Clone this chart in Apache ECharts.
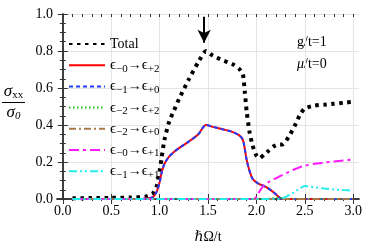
<!DOCTYPE html>
<html>
<head>
<meta charset="utf-8">
<script src="https://cdn.jsdelivr.net/npm/echarts@6/dist/echarts.min.js"></script>
<style>html,body{margin:0;padding:0;background:#fff}#c{width:374px;height:249px}</style>
</head>
<body>
<div id="c"></div>
<script>
// ---- data ----
var xs = [0.1,0.3,0.5,0.7,0.85,0.93,0.97,1.0,1.02,1.05,1.1,1.15,1.2,1.3,1.4,1.48,1.55,1.65,1.75,1.82,1.86,1.88,1.9,1.93,1.96,2.0,2.03,2.08,2.13,2.18,2.23,2.27,2.3,2.35,2.4,2.45,2.5,2.6,2.7,2.8,2.9,3.0];
var total = [0.004,0.005,0.006,0.008,0.012,0.03,0.07,0.15,0.22,0.32,0.42,0.48,0.54,0.645,0.74,0.80,0.775,0.75,0.73,0.705,0.675,0.58,0.47,0.36,0.29,0.235,0.22,0.24,0.262,0.285,0.295,0.295,0.31,0.35,0.40,0.455,0.49,0.505,0.51,0.515,0.52,0.525];
var e0to2 = [0,0,0,0,0.002,0.01,0.04,0.09,0.14,0.19,0.23,0.255,0.275,0.31,0.35,0.40,0.39,0.377,0.363,0.345,0.32,0.27,0.21,0.15,0.11,0.09,0.08,0.07,0.055,0.035,0.012,0,0,0,0,0,0,0,0,0,0,0];
var e1to0 = [0,0,0,0,0.002,0.01,0.04,0.09,0.14,0.19,0.23,0.255,0.275,0.31,0.35,0.40,0.39,0.377,0.363,0.345,0.32,0.27,0.21,0.15,0.11,0.09,0.08,0.07,0.055,0.035,0.012,0,0,0,0,0,0,0,0,0,0,0];
var e2to2 = [0,0,0,0,0,0,0,0,0,0,0,0,0,0,0,0,0,0,0,0,0,0,0,0,0,0,0,0,0.003,0.006,0.008,0.004,0,0,0,0,0,0,0,0,0,0];
var e2to0 = [0,0,0,0,0,0,0,0,0,0,0,0,0,0,0,0,0,0,0,0,0,0,0,0,0,0,0,0,0,0,0,0,0,0,0,0,0,0,0,0,0,0];
var e0to1 = [0,0,0,0,0,0,0,0,0,0,0,0,0,0,0,0,0,0,0,0,0,0,0,0,0,0.01,0.04,0.075,0.093,0.107,0.12,0.13,0.138,0.15,0.162,0.172,0.18,0.19,0.197,0.203,0.208,0.213];
var e1to1 = [0,0,0,0,0,0,0,0,0,0,0,0,0,0,0,0,0,0,0,0,0,0,0,0,0,0,0,0,0,0,0,0.004,0.01,0.024,0.04,0.058,0.07,0.063,0.057,0.052,0.048,0.045];
var xTicks = [0,0.5,1,1.5,2,2.5,3];
var xMinorTicks = [0,0.1,0.2,0.3,0.4,0.5,0.6,0.7,0.8,0.9,1,1.1,1.2,1.3,1.4,1.5,1.6,1.7,1.8,1.9,2,2.1,2.2,2.3,2.4,2.5,2.6,2.7,2.8,2.9,3];
var seriesNames = ['Total','e-0e+2','e-1e+0','e-2e+2','e-2e+0','e-0e+1','e-1e+1'];
var legendSubs = {'e-0e+2':['−0','+2'],'e-1e+0':['−1','+0'],'e-2e+2':['−2','+2'],'e-2e+0':['−2','+0'],'e-0e+1':['−0','+1'],'e-1e+1':['−1','+1']};
var arrowX = 1.46;

function pairs(ys){ return xs.map(function(x,i){ return [x, ys[i]]; }); }

var serif = "'Liberation Serif','DejaVu Serif',serif";
var frameColor = '#333';
var chart = echarts.init(document.getElementById('c'), null, {renderer:'canvas'});

function baseLine(name, ys, color, width, type, z){
  return {name:name, type:'line', data:pairs(ys), xAxisIndex:0, yAxisIndex:0,
    showSymbol:false, symbol:'none', smooth:0.3, z:z, animation:false,
    lineStyle:{color:color, width:width, type:type, cap:'butt'}, itemStyle:{color:color}};
}

var sTotal = baseLine('Total', total, '#000', 4, [3.5,4.5], 2);
sTotal.smooth = 0.2;
sTotal.markLine = {silent:true, animation:false, symbol:['none','arrow'], symbolSize:[10,13],
  label:{show:false}, lineStyle:{color:'#000', width:2, type:'solid'},
  data:[[{coord:[arrowX,0.985]},{coord:[arrowX,0.845]}]]};

var option = {
  animation:false,
  grid:[{left:57, right:15, top:14, bottom:48, containLabel:false},
        {left:57, right:15, top:14, bottom:48, containLabel:false}],
  legend:{orient:'vertical', left:63, top:30, itemWidth:36, itemHeight:14, itemGap:3.2,
    data:seriesNames, selectedMode:false, itemStyle:{opacity:0},
    textStyle:{fontFamily:serif, fontSize:14, lineHeight:18, color:'#000',
      rich:{e:{fontFamily:serif, fontSize:15, lineHeight:18, color:'#000'},
            s:{fontFamily:serif, fontSize:11, lineHeight:10, verticalAlign:'bottom', color:'#000'},
            a:{fontFamily:serif, fontSize:14, lineHeight:18, color:'#000'}}},
    formatter:function(name){
      if(name==='Total') return 'Total';
      var s = legendSubs[name];
      return '{e|ϵ}{s|'+s[0]+'}{a|→}{e|ϵ}{s|'+s[1]+'}';
    }},
  xAxis:[
    {type:'value', gridIndex:0, position:'bottom', min:-0.06, max:3.06,
     name:'ℏΩ/t', nameLocation:'middle', nameGap:31,
     nameTextStyle:{fontFamily:serif, fontSize:14, color:'#000'},
     axisLine:{show:true, lineStyle:{color:frameColor, width:1.5}},
     axisTick:{show:true, inside:true, length:5, customValues:xTicks, lineStyle:{color:frameColor}},
     axisLabel:{show:true, customValues:xTicks, margin:5, fontFamily:serif, fontSize:14, color:'#000',
       formatter:function(v){return v.toFixed(1);}},
     splitLine:{show:true, lineStyle:{color:'#e4e4e4', width:1}}},
    {type:'value', gridIndex:0, position:'top', min:-0.06, max:3.06,
     axisLine:{show:true, lineStyle:{color:frameColor, width:1.5}},
     axisTick:{show:true, inside:true, length:5, customValues:xTicks, lineStyle:{color:frameColor}},
     axisLabel:{show:false}, splitLine:{show:false}},
    {type:'value', gridIndex:1, position:'bottom', min:-0.06, max:3.06,
     axisLine:{show:false},
     axisTick:{show:true, inside:true, length:3, customValues:xMinorTicks, lineStyle:{color:frameColor}},
     axisLabel:{show:false}, splitLine:{show:false}},
    {type:'value', gridIndex:1, position:'top', min:-0.06, max:3.06,
     axisLine:{show:false},
     axisTick:{show:true, inside:true, length:3, customValues:xMinorTicks, lineStyle:{color:frameColor}},
     axisLabel:{show:false}, splitLine:{show:false}}
  ],
  yAxis:[
    {type:'value', gridIndex:0, position:'left', min:0, max:1, interval:0.2,
     axisLine:{show:true, lineStyle:{color:frameColor, width:1.5}},
     axisTick:{show:true, inside:true, length:5, lineStyle:{color:frameColor}},
     minorTick:{show:true, splitNumber:4, length:3, lineStyle:{color:frameColor}},
     axisLabel:{show:true, margin:4, fontFamily:serif, fontSize:14, color:'#000',
       formatter:function(v){return v.toFixed(1);}},
     splitLine:{show:true, lineStyle:{color:'#e4e4e4', width:1}}},
    {type:'value', gridIndex:0, position:'right', min:0, max:1, interval:0.2,
     axisLine:{show:true, lineStyle:{color:frameColor, width:1.5}},
     axisTick:{show:true, inside:true, length:5, lineStyle:{color:frameColor}},
     minorTick:{show:true, splitNumber:4, length:3, lineStyle:{color:frameColor}},
     axisLabel:{show:false}, splitLine:{show:false}},
    {type:'value', gridIndex:1, min:0, max:1, show:false}
  ],
  graphic:[
    {type:'text', left:297, top:35, style:{text:'g/t=1', font:"14px 'Liberation Serif'", fill:'#000'}},
    {type:'text', left:297, top:57, style:{text:'{i|μ}/t=0', fill:'#000',
      font:"14px 'Liberation Serif'",
      rich:{i:{fontFamily:serif, fontStyle:'italic', fontSize:14, fill:'#000'}}}},
    {type:'text', left:2, top:83, style:{
      text:'{n|σ}{s|xx}\n{b|}\n{n|σ}{t|0}', align:'center', fill:'#000',
      rich:{n:{fontFamily:serif, fontStyle:'italic', fontSize:17, lineHeight:17, fill:'#000', align:'center'},
            s:{fontFamily:serif, fontSize:11, lineHeight:17, padding:[7,0,0,0], fill:'#000'},
            t:{fontFamily:serif, fontStyle:'italic', fontSize:11, lineHeight:17, padding:[7,0,0,0], fill:'#000'},
            b:{width:23, height:1, lineHeight:4, backgroundColor:'#000', align:'center'}}}}
  ],
  series:[
    sTotal,
    baseLine(seriesNames[1], e0to2, '#ff0000', 2, 'solid', 3),
    baseLine(seriesNames[2], e1to0, '#1f3dff', 2, [4,3], 4),
    baseLine(seriesNames[3], e2to2, '#1fbf1f', 1.6, [1.5,2.5], 5),
    baseLine(seriesNames[4], e2to0, '#a8784a', 2, [7,3,2,3], 6),
    baseLine(seriesNames[5], e0to1, '#ff19ff', 2, [10,4,3,4], 7),
    baseLine(seriesNames[6], e1to1, '#22eeee', 2, [8,3,2,3,2,3], 8)
  ]
};
chart.setOption(option);
</script>
</body>
</html>
